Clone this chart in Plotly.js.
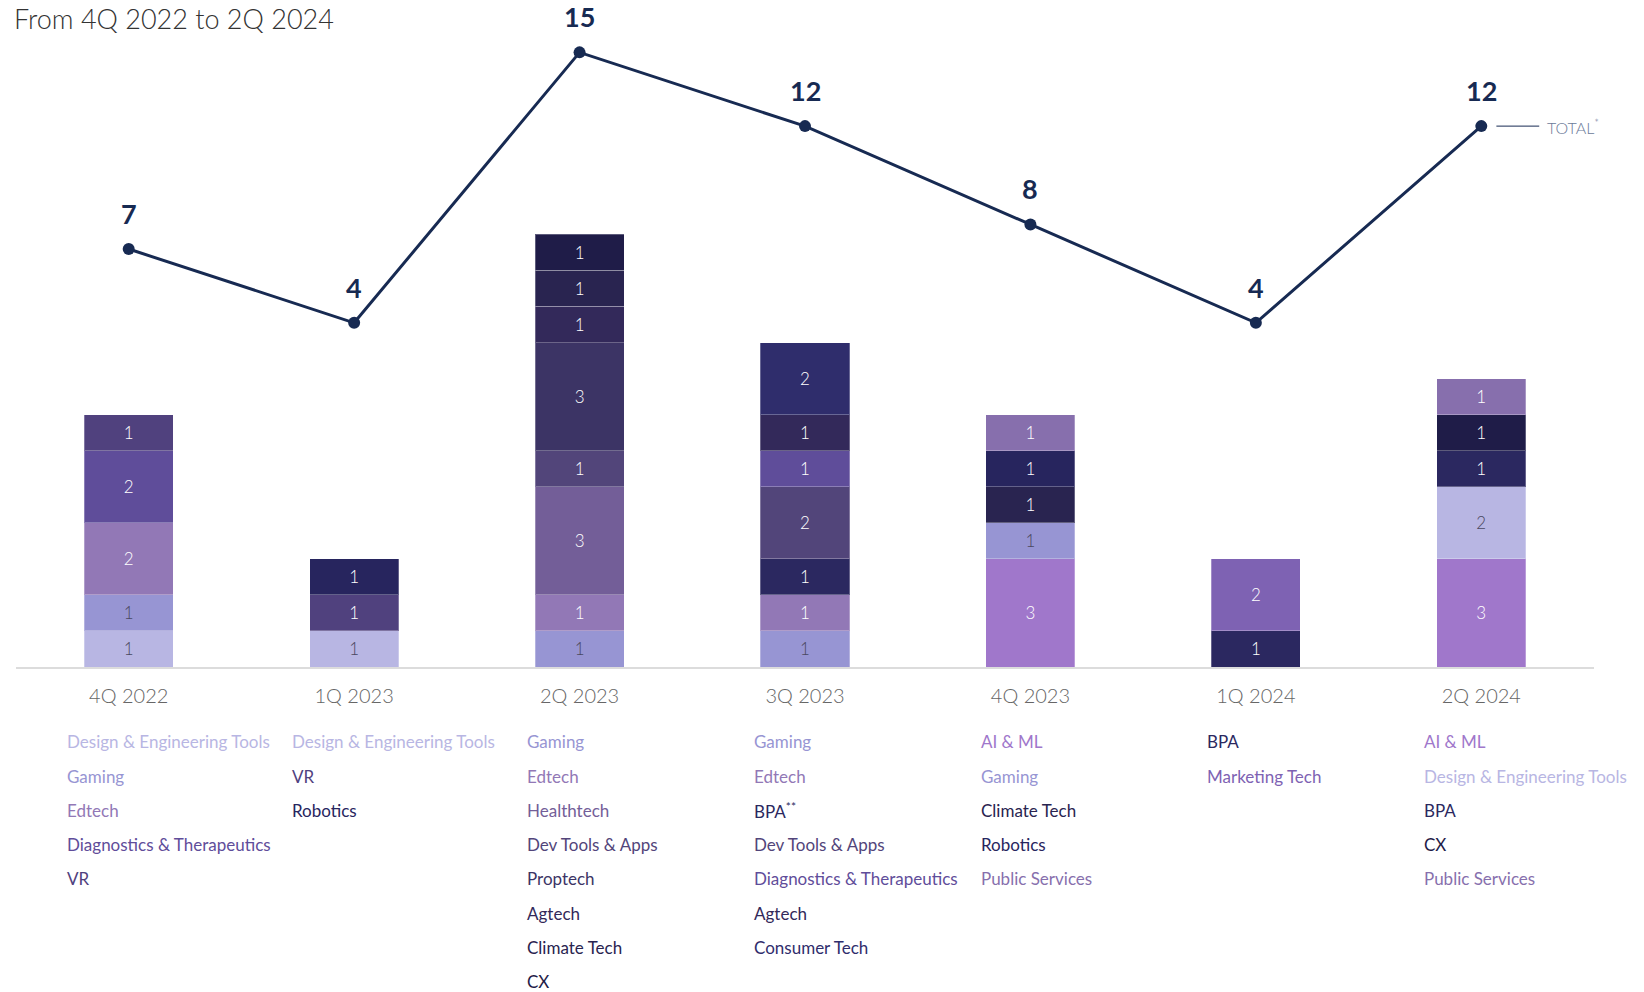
<!DOCTYPE html>
<html>
<head>
<meta charset="utf-8">
<script src="https://cdn.plot.ly/plotly-3.0.1.min.js"></script>
<style>html,body{margin:0;padding:0;background:#fff;}#chart{width:1644px;height:992px;}</style>
</head>
<body>
<div id="chart"></div>
<script>
// ---------------- DATA ----------------
const quarters = ['4Q 2022','1Q 2023','2Q 2023','3Q 2023','4Q 2023','1Q 2024','2Q 2024'];
const totals = [7, 4, 15, 12, 8, 4, 12];

// sectors per quarter, listed bottom-to-top of each stacked bar
const sectorNames = [
  ['Design & Engineering Tools','Gaming','Edtech','Diagnostics & Therapeutics','VR'],
  ['Design & Engineering Tools','VR','Robotics'],
  ['Gaming','Edtech','Healthtech','Dev Tools & Apps','Proptech','Agtech','Climate Tech','CX'],
  ['Gaming','Edtech','BPA**','Dev Tools & Apps','Diagnostics & Therapeutics','Agtech','Consumer Tech'],
  ['AI & ML','Gaming','Climate Tech','Robotics','Public Services'],
  ['BPA','Marketing Tech'],
  ['AI & ML','Design & Engineering Tools','BPA','CX','Public Services']
];
const sectorCounts = [
  [1, 1, 2, 2, 1],
  [1, 1, 1],
  [1, 1, 3, 1, 3, 1, 1, 1],
  [1, 1, 1, 2, 1, 1, 2],
  [3, 1, 1, 1, 1],
  [1, 2],
  [3, 2, 1, 1, 1]
];

// ---------------- STYLE ----------------
const sectorColors = {
  'Design & Engineering Tools':'#b8b6e3',
  'Gaming':'#9795d3',
  'Edtech':'#9278b6',
  'Diagnostics & Therapeutics':'#5f4d9a',
  'VR':'#50417e',
  'Robotics':'#27255e',
  'Healthtech':'#735e98',
  'Dev Tools & Apps':'#52457a',
  'Proptech':'#3c3465',
  'Agtech':'#33295a',
  'Climate Tech':'#292450',
  'CX':'#1f1c48',
  'BPA':'#2b2860',
  'BPA**':'#2b2860',
  'Consumer Tech':'#2f2d6c',
  'AI & ML':'#a077cb',
  'Public Services':'#876fad',
  'Marketing Tech':'#7e62b3'
};
const lightSectors = ['Design & Engineering Tools','Gaming'];
const listOffsets = [-0.27, -0.27, -0.23, -0.22, -0.215, -0.214, -0.25];
const navy = '#172a52';
const FONT = 'Lato, "Open Sans", sans-serif';

function displayName(n){ return n.replace('**','<sup>**</sup>'); }

// ---------------- TRACES ----------------
const traces = [];
const maxLayers = Math.max(...sectorCounts.map(a => a.length));
for (let k = 0; k < maxLayers; k++) {
  const xs = [], y = [], colors = [], tcolors = [];
  quarters.forEach((q, i) => {
    const v = sectorCounts[i][k];
    const n = sectorNames[i][k];
    if (v === undefined) return;
    xs.push(q);
    y.push(v);
    colors.push(sectorColors[n]);
    tcolors.push(lightSectors.includes(n) ? '#4a4860' : '#ffffff');
  });
  traces.push({
    type: 'bar', x: xs, y: y, yaxis: 'y',
    width: 0.395,
    marker: {color: colors, line: {color: 'rgba(255,255,255,0.28)', width: 1}},
    texttemplate: '%{y}', textposition: 'inside', insidetextanchor: 'middle',
    textangle: 0, constraintext: 'none',
    textfont: {family: FONT, size: 17, color: tcolors, weight: 300},
    hoverinfo: 'skip', showlegend: false
  });
}

traces.push({
  type: 'scatter', mode: 'lines+markers', x: quarters, y: totals, yaxis: 'y2',
  line: {color: navy, width: 3},
  marker: {color: navy, size: 12},
  cliponaxis: false, hoverinfo: 'skip', showlegend: false
});

// ---------------- ANNOTATIONS ----------------
const annotations = [];
totals.forEach((t, i) => {
  annotations.push({
    x: quarters[i], y: t, xref: 'x', yref: 'y2', text: '<b>' + t + '</b>',
    showarrow: false, yshift: 35.5, yanchor: 'middle',
    font: {family: FONT, size: 27, color: navy, weight: 900}
  });
});
const plotTop = 0, plotBottom = 667, plotH = plotBottom - plotTop;
sectorNames.forEach((names, i) => {
  names.forEach((n, r) => {
    const ypx = 742 + 34.2 * r;
    annotations.push({
      x: i + listOffsets[i], xref: 'x', xanchor: 'left', xshift: -3,
      y: -(ypx - plotBottom) / plotH, yref: 'paper', yanchor: 'middle',
      text: displayName(n), showarrow: false,
      font: {family: FONT, size: 17, color: sectorColors[n]}
    });
  });
});
annotations.push({
  x: 6.3, xref: 'x', xanchor: 'left', xshift: -4, y: totals[6], yref: 'y2', yanchor: 'middle',
  text: 'TOTAL<sup>*</sup>', showarrow: false,
  font: {family: FONT, size: 16, color: '#6b7a99', weight: 300}
});

const layout = {
  width: 1644, height: 992,
  margin: {l: 16, r: 50, t: plotTop, b: 992 - plotBottom, pad: 0},
  paper_bgcolor: '#ffffff', plot_bgcolor: '#ffffff',
  barmode: 'stack', bargap: 0.6,
  title: {
    text: 'From 4Q 2022 to 2Q 2024', xref: 'container', yref: 'container',
    x: 14 / 1644, xanchor: 'left', y: 1 - 20 / 992, yanchor: 'middle',
    font: {family: FONT, size: 27, color: '#333333', weight: 300}
  },
  xaxis: {
    type: 'category', categoryarray: quarters, categoryorder: 'array',
    range: [-0.5, 6.5], showgrid: false, zeroline: false,
    showline: true, linecolor: '#dcdcdc', linewidth: 2,
    ticks: '', ticklabelstandoff: 10,
    tickfont: {family: FONT, size: 20, color: '#666666', weight: 300},
    fixedrange: true
  },
  yaxis: {range: [0, 18.5], showgrid: false, zeroline: false, showticklabels: false, showline: false},
  yaxis2: {range: [-10, 17.13], overlaying: 'y', showgrid: false, zeroline: false, showticklabels: false, showline: false},
  shapes: [{
    type: 'line', xref: 'x', yref: 'y2', x0: 6.067, x1: 6.257, y0: totals[6], y1: totals[6],
    line: {color: navy, width: 1}
  }],
  annotations: annotations,
  showlegend: false
};

Plotly.newPlot('chart', traces, layout, {displayModeBar: false, staticPlot: true});
</script>
</body>
</html>
